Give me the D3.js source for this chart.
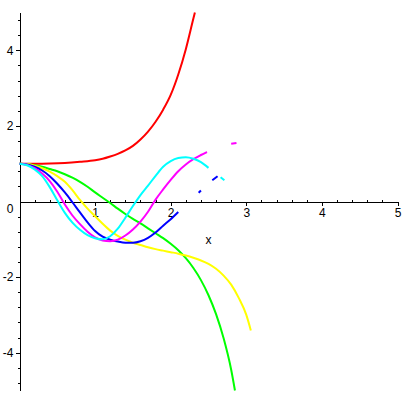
<!DOCTYPE html>
<html>
<head>
<meta charset="utf-8">
<script src="https://d3js.org/d3.v7.min.js"></script>
<style>
    body { margin: 0; background: #fff; }
    svg { display: block; }
    .axis text { font-family: 'Liberation Sans', Arial, sans-serif; font-size: 12px; fill: #000; }
    .axis path, .axis line { stroke: #000; stroke-width: 1; shape-rendering: crispEdges; }
    .curve { fill: none; stroke-width: 2; stroke-linejoin: round; }
    .axis-label { font-family: 'Liberation Sans', Arial, sans-serif; font-size: 12px; }
</style>
</head>
<body>
<div id="chart"></div>
<script>
var WIDTH = 405
var HEIGHT = 405

// x ticks and y ticks
var X_MAJOR = [1, 2, 3, 4, 5]
var X_MINOR = d3.range(1, 25).map(function (i) { return i / 5 }).filter(function (v) { return v % 1 !== 0 })
var Y_MAJOR = [-4, -2, 2, 4]
var Y_MINOR = [-4.8, -4.4, -3.6, -3.2, -2.8, -2.4, -1.6, -1.2, -0.8, -0.4, 0.4, 0.8, 1.2, 1.6, 2.4, 2.8, 3.2, 3.6, 4.4, 4.8]

// curves (null = gap in the plotted curve)
var redX = [0, 0.2, 0.4, 0.6, 0.8, 1.0, 1.1, 1.2, 1.3, 1.4, 1.5, 1.6, 1.7, 1.8, 1.9, 2.0, 2.1, 2.2, 2.3, 2.32]
var redY = [1, 1, 1.005, 1.02, 1.05, 1.09, 1.13, 1.19, 1.26, 1.35, 1.47, 1.64, 1.85, 2.11, 2.43, 2.82, 3.36, 4.03, 4.84, 5.0]

var greenX = [0, 0.1, 0.2, 0.3, 0.4, 0.5, 0.6, 0.7, 0.8, 0.9, 1.0, 1.1, 1.2, 1.3, 1.4, 1.5, 1.6, 1.7, 1.8, 1.9, 2.0, 2.1, 2.2, 2.3, 2.4, 2.5, 2.6, 2.7, 2.8, 2.85]
var greenY = [1, 0.99, 0.96, 0.92, 0.86, 0.8, 0.72, 0.63, 0.52, 0.39, 0.24, 0.1, -0.04, -0.19, -0.33, -0.46, -0.58, -0.71, -0.84, -0.97, -1.12, -1.29, -1.5, -1.76, -2.08, -2.48, -2.98, -3.62, -4.45, -5.0]

var yellowX = [0, 0.1, 0.2, 0.3, 0.4, 0.5, 0.6, 0.7, 0.8, 0.9, 1.0, 1.1, 1.2, 1.3, 1.4, 1.5, 1.6, 1.7, 1.8, 1.9, 2.0, 2.1, 2.2, 2.3, 2.4, 2.5, 2.6, 2.7, 2.8, 2.9, 3.0, 3.06]
var yellowY = [1, 0.99, 0.95, 0.88, 0.79, 0.67, 0.52, 0.3, 0.04, -0.19, -0.39, -0.59, -0.77, -0.91, -1.01, -1.09, -1.15, -1.21, -1.26, -1.3, -1.34, -1.38, -1.43, -1.49, -1.56, -1.65, -1.78, -1.96, -2.2, -2.55, -3.0, -3.41]

var blueX = [0, 0.1, 0.2, 0.3, 0.4, 0.5, 0.6, 0.7, 0.8, 0.9, 1.0, 1.1, 1.2, 1.3, 1.4, 1.5, 1.6, 1.7, 1.8, 1.9, 2.0, 2.1, null, 2.37, 2.4, null, 2.55, 2.62]
var blueY = [1, 0.98, 0.92, 0.82, 0.67, 0.47, 0.24, -0.02, -0.29, -0.55, -0.78, -0.93, -1.01, -1.06, -1.09, -1.09, -1.05, -0.96, -0.82, -0.64, -0.47, -0.28, null, 0.23, 0.29, null, 0.56, 0.67]

var magentaX = [0, 0.1, 0.2, 0.3, 0.4, 0.5, 0.6, 0.7, 0.8, 0.9, 1.0, 1.1, 1.2, 1.3, 1.4, 1.5, 1.6, 1.7, 1.8, 1.9, 2.0, 2.1, 2.2, 2.3, 2.4, 2.48, null, 2.8, 2.87]
var magentaY = [1, 0.97, 0.88, 0.74, 0.54, 0.26, -0.08, -0.37, -0.6, -0.8, -0.95, -1.03, -1.05, -1.01, -0.9, -0.74, -0.53, -0.27, 0.05, 0.32, 0.57, 0.8, 0.98, 1.12, 1.23, 1.31, null, 1.53, 1.55]

var cyanX = [0, 0.1, 0.2, 0.3, 0.4, 0.5, 0.6, 0.7, 0.8, 0.9, 1.0, 1.1, 1.2, 1.3, 1.4, 1.5, 1.6, 1.7, 1.8, 1.9, 2.0, 2.1, 2.2, 2.3, 2.4, 2.5, null, 2.66, 2.71]
var cyanY = [1, 0.96, 0.85, 0.67, 0.38, 0.03, -0.3, -0.56, -0.75, -0.89, -0.97, -1.0, -0.92, -0.72, -0.43, -0.12, 0.17, 0.42, 0.68, 0.92, 1.07, 1.15, 1.17, 1.13, 1.04, 0.89, null, 0.64, 0.56]

var SERIES = [
    { name: 'red', color: '#ff0000', x: redX, y: redY },
    { name: 'green', color: '#00ff00', x: greenX, y: greenY },
    { name: 'yellow', color: '#ffff00', x: yellowX, y: yellowY },
    { name: 'blue', color: '#0000ff', x: blueX, y: blueY },
    { name: 'magenta', color: '#ff00ff', x: magentaX, y: magentaY },
    { name: 'cyan', color: '#00ffff', x: cyanX, y: cyanY }
]

var svg = d3.select('#chart')
    .append('svg')
    .attr('width', WIDTH)
    .attr('height', HEIGHT)

var x = d3.scaleLinear().domain([0, 5]).range([19.5, 397.5])
var y = d3.scaleLinear().domain([-5, 5]).range([390.5, 12.5])

// x axis: major ticks down with labels, minor ticks up
svg.append('g')
    .attr('class', 'axis x-axis')
    .attr('transform', 'translate(0,' + y(0) + ')')
    .call(d3.axisBottom(x).tickValues(X_MAJOR).tickSizeInner(4).tickSizeOuter(0).tickPadding(3).tickFormat(d3.format('d')))

svg.append('g')
    .attr('class', 'axis x-minor')
    .attr('transform', 'translate(0,' + y(0) + ')')
    .call(d3.axisTop(x).tickValues(X_MINOR).tickSize(2).tickFormat(''))
    .select('.domain').remove()

// y axis: major + minor ticks to the left
svg.append('g')
    .attr('class', 'axis y-axis')
    .attr('transform', 'translate(' + x(0) + ',0)')
    .call(d3.axisLeft(y).tickValues(Y_MAJOR).tickSizeInner(4).tickSizeOuter(0).tickPadding(2).tickFormat(d3.format('d')))

svg.select('.y-axis').selectAll('text').text(function (d) { return d < 0 ? '-' + Math.abs(d) : d })

svg.append('g')
    .attr('class', 'axis y-minor')
    .attr('transform', 'translate(' + x(0) + ',0)')
    .call(d3.axisLeft(y).tickValues(Y_MINOR).tickSize(2).tickFormat(''))
    .select('.domain').remove()

// the 0 on the y axis sits below the x axis line
svg.append('text')
    .attr('class', 'axis-label')
    .attr('x', x(0) - 6)
    .attr('y', y(0) + 11)
    .attr('text-anchor', 'end')
    .text('0')

svg.append('text')
    .attr('class', 'axis-label')
    .attr('x', x(2.5))
    .attr('y', y(0) + 42)
    .attr('text-anchor', 'middle')
    .text('x')

var line = d3.line()
    .defined(function (d) { return d[0] !== null && d[1] !== null })
    .x(function (d) { return x(d[0]) })
    .y(function (d) { return y(d[1]) })
    .curve(d3.curveMonotoneX)

svg.selectAll('.curve')
    .data(SERIES)
    .enter().append('path')
    .attr('class', function (d) { return 'curve ' + d.name })
    .attr('stroke', function (d) { return d.color })
    .attr('d', function (d) { return line(d3.zip(d.x, d.y)) })
</script>
</body>
</html>
